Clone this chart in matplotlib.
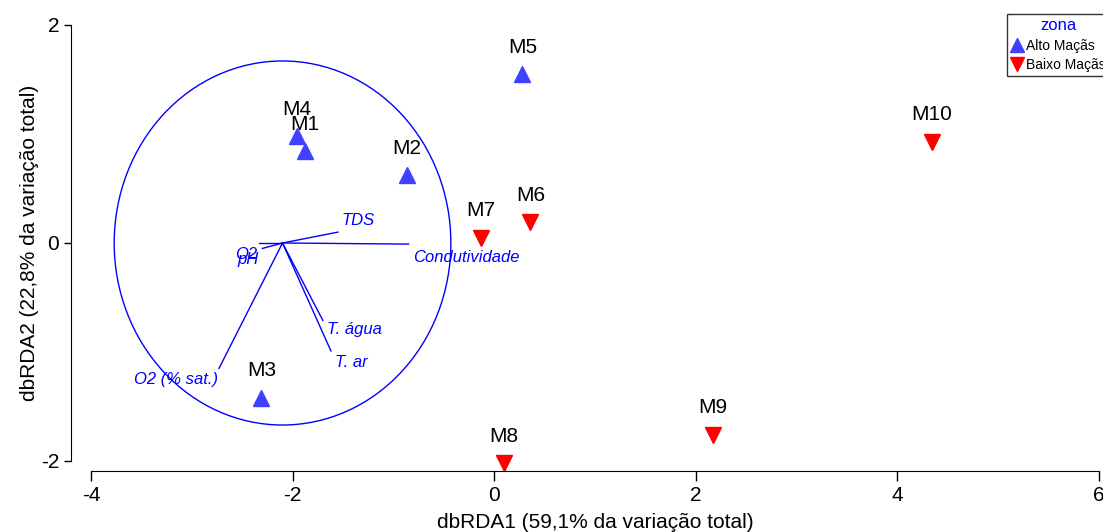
import matplotlib
matplotlib.use("Agg")
import matplotlib.pyplot as plt
from matplotlib.patches import Circle
import numpy as np

plt.rcParams['font.family'] = ['Liberation Sans', 'DejaVu Sans']

# site scores on the first two dbRDA axes
sites = ['M1', 'M2', 'M3', 'M4', 'M5', 'M6', 'M7', 'M8', 'M9', 'M10']
zona = ['Alto', 'Alto', 'Alto', 'Alto', 'Alto',
        'Baixo', 'Baixo', 'Baixo', 'Baixo', 'Baixo']
rda1 = [-1.88, -0.87, -2.31, -1.96, 0.28, 0.36, -0.13, 0.10, 2.17, 4.34]
rda2 = [0.84, 0.62, -1.42, 0.98, 1.55, 0.19, 0.05, -2.02, -1.76, 0.93]

# environmental vectors (drawn from the circle centre)
variaveis = ['TDS', 'Condutividade', 'O2', 'pH', 'T. água', 'T. ar', 'O2 (% sat.)']
vec_x = [0.55, 1.25, -0.23, -0.20, 0.40, 0.48, -0.63]
vec_y = [0.10, -0.01, 0.00, -0.05, -0.71, -0.99, -1.15]
# label offsets (data units) relative to vector tips
lab_dx = [0.20, 0.57, -0.13, -0.14, 0.31, 0.20, -0.43]
lab_dy = [0.11, -0.12, -0.11, -0.10, -0.08, -0.11, -0.10]

centro = (-2.10, 0.0)
raio = 1.67

fig = plt.figure(figsize=(11.03, 5.32), dpi=100)
ax = fig.add_axes([91/1103, 71/532, 1008/1103, 436/532])

cores = {'Alto': '#4040ff', 'Baixo': '#ff0000'}
marcas = {'Alto': '^', 'Baixo': 'v'}
nomes = {'Alto': 'Alto Maçãs', 'Baixo': 'Baixo Maçãs'}

for z in ['Alto', 'Baixo']:
    xs = [x for x, zz in zip(rda1, zona) if zz == z]
    ys = [y for y, zz in zip(rda2, zona) if zz == z]
    ax.plot(xs, ys, linestyle='none', marker=marcas[z], color=cores[z],
            markersize=12, clip_on=False, label=nomes[z])

for s, x, y in zip(sites, rda1, rda2):
    ax.text(x, y + 0.16, s, ha='center', va='bottom', fontsize=15,
            color='black', clip_on=False)

ax.add_patch(Circle(centro, raio, fill=False, edgecolor='#0000ff',
                    linewidth=1.0, clip_on=False))

for nome, dx, dy, lx, ly in zip(variaveis, vec_x, vec_y, lab_dx, lab_dy):
    ax.plot([centro[0], centro[0] + dx], [centro[1], centro[1] + dy],
            color='#0000ff', linewidth=1.0, clip_on=False)
    ax.text(centro[0] + dx + lx, centro[1] + dy + ly, nome, ha='center',
            va='center', fontsize=12, style='italic', color='#0000ff')

ax.set_xlim(-4, 6)
ax.set_ylim(-2, 2)
ax.set_xticks([-4, -2, 0, 2, 4, 6])
ax.set_yticks([-2, 0, 2])
ax.set_xticklabels(['-4', '-2', '0', '2', '4', '6'])
ax.set_yticklabels(['-2', '0', '2'])

ax.spines['top'].set_visible(False)
ax.spines['right'].set_visible(False)
ax.spines['left'].set_position(('outward', 14.4))
ax.spines['bottom'].set_position(('outward', 7.2))
ax.tick_params(axis='both', labelsize=15, direction='out', width=1)
ax.tick_params(axis='x', length=7)
ax.tick_params(axis='y', length=5)

ax.set_xlabel('dbRDA1 (59,1% da variação total)', fontsize=15, labelpad=6)
ax.set_ylabel('dbRDA2 (22,8% da variação total)', fontsize=15, labelpad=1)

leg = fig.legend(loc='upper left', bbox_to_anchor=(1007/1103, 1 - 14/532),
                 title='zona', fontsize=10, title_fontsize=12, frameon=True,
                 fancybox=False, edgecolor='black', borderpad=0.3,
                 handletextpad=0.2, handlelength=0.9, labelspacing=0.4,
                 markerscale=0.85, borderaxespad=0)
leg.get_title().set_color('#0000ff')
leg.get_frame().set_linewidth(1.0)

fig.savefig('out.png', dpi=100)
